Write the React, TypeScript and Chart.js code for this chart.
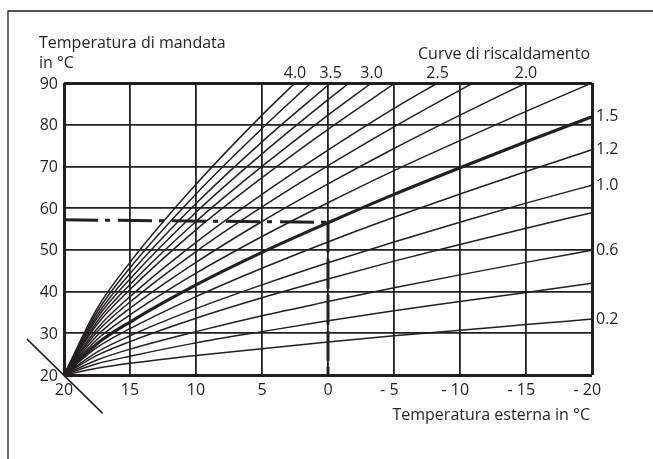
import { useEffect, useRef } from 'react';
import { Chart, registerables } from 'chart.js';

Chart.register(...registerables);

// Outside temperature sample points (°C)
const outsideTemp = [20, 17.5, 15, 10, 5, 0, -5, -10, -15, -20];

// Flow temperature of each heating curve at those outside temperatures (null = above 90 °C)
const k02 = [20, 21.6, 22.8, 24.7, 26.3, 27.9, 29.4, 30.7, 32.1, 33.4];
const k04 = [20, 22.7, 24.5, 27.7, 30.4, 33.0, 35.4, 37.6, 39.8, 42.0];
const k06 = [20, 23.6, 26.2, 30.4, 34.2, 37.6, 40.9, 44.0, 47.0, 49.9];
const k08 = [20, 24.7, 28.0, 33.6, 38.5, 43.0, 47.3, 51.3, 55.2, 58.9];
const k10 = [20, 25.5, 29.4, 35.9, 41.6, 46.9, 51.9, 56.6, 61.2, 65.5];
const k12 = [20, 26.6, 31.1, 38.8, 45.6, 51.9, 57.8, 63.4, 68.8, 74.0];
const k15 = [20, 27.5, 32.7, 41.6, 49.4, 56.5, 63.3, 69.7, 75.9, 81.9];
const k17 = [20, 28.5, 34.4, 44.4, 53.2, 61.3, 69.0, 76.2, 83.2, 90.0];
const k20 = [20, 29.4, 36.0, 47.0, 56.8, 65.8, 74.3, 82.3, 90.0, null];
const k22 = [20, 30.3, 37.5, 49.6, 60.3, 70.2, 79.5, 88.3, null, null];
const k25 = [20, 31.1, 38.8, 51.8, 63.3, 73.9, 83.9, null, null, null];
const k27 = [20, 32.1, 40.5, 54.8, 67.3, 78.9, null, null, null, null];
const k30 = [20, 32.8, 41.7, 56.8, 70.0, 82.3, null, null, null, null];
const k32 = [20, 33.6, 43.0, 59.0, 73.0, 86.0, null, null, null, null];
const k35 = [20, 34.3, 44.3, 61.1, 75.9, null, null, null, null, null];
const k37 = [20, 35.1, 45.7, 63.4, 79.1, null, null, null, null, null];
const k40 = [20, 35.9, 47.0, 65.7, 82.3, null, null, null, null, null];

const curveNames = ['0.2', '0.4', '0.6', '0.8', '1.0', '1.2', '1.5', '1.75', '2.0', '2.25', '2.5', '2.75', '3.0', '3.25', '3.5', '3.75', '4.0'];
const curveSeries = [k02, k04, k06, k08, k10, k12, k15, k17, k20, k22, k25, k27, k30, k32, k35, k37, k40];
// Outside temperature where a curve leaves the top of the diagram (90 °C)
const curveExit = [null, null, null, null, null, null, null, null, null, -11, -8.3, -5.1, -3.3, -1.6, -0.2, 1.3, 2.5];
const labelledCurves = ['0.2', '0.6', '1.0', '1.2', '1.5', '2.0', '2.5', '3.0', '3.5', '4.0'];
const boldCurve = '1.5';

// Example reading (dash-dot / dashed)
const exampleFlow = [57.2, 56.6];
const exampleOutside = [20, 0];
const exampleDrop = [56.5, 20];

// Diagonal marker through the origin
const markerX = [22.8, 17.07];
const markerY = [28.6, 10.8];

const xTickValues = [20, 15, 10, 5, 0, -5, -10, -15, -20];
const xTickLabels = ['20', '15', '10', '5', '0', '- 5', '- 10', '- 15', '- 20'];
const yTickValues = [20, 30, 40, 50, 60, 70, 80, 90];
const yTickLabels = ['20', '30', '40', '50', '60', '70', '80', '90'];

const yTitle = ['Temperatura di mandata', 'in °C'];
const xTitle = 'Temperatura esterna in °C';
const curveTitle = 'Curve di riscaldamento';

const INK = '#231f20';
const FONT = '16px "Open Sans", "DejaVu Sans", sans-serif';

function buildPoints(values: (number | null)[], exit: number | null) {
  const pts: { x: number; y: number }[] = [];
  values.forEach((v, i) => {
    if (v !== null) pts.push({ x: outsideTemp[i], y: v });
  });
  if (exit !== null) pts.push({ x: exit, y: 90 });
  return pts;
}

export default function App() {
  const ref = useRef<HTMLCanvasElement>(null);

  useEffect(() => {
    const canvas = ref.current;
    if (!canvas) return;

    const curveDatasets = curveSeries.map((vals, i) => ({
      label: curveNames[i],
      data: buildPoints(vals, curveExit[i]),
      borderColor: INK,
      borderWidth: curveNames[i] === boldCurve ? 3.2 : 1.5,
      pointRadius: 0,
      fill: false,
      cubicInterpolationMode: 'monotone' as const,
    }));

    const extraDatasets = [
      {
        label: 'example',
        data: exampleOutside.map((x, i) => ({ x, y: exampleFlow[i] })),
        borderColor: INK,
        borderWidth: 3,
        borderDash: [34, 7, 5, 8],
        pointRadius: 0,
        fill: false,
      },
      {
        label: 'drop',
        data: exampleDrop.map((y) => ({ x: exampleOutside[1], y })),
        borderColor: INK,
        borderWidth: 3,
        borderDash: [30, 6],
        pointRadius: 0,
        fill: false,
      },
      {
        label: 'marker',
        data: markerX.map((x, i) => ({ x, y: markerY[i] })),
        borderColor: INK,
        borderWidth: 1.5,
        pointRadius: 0,
        fill: false,
        clip: false as const,
      },
    ];

    const textPlugin = {
      id: 'texts',
      beforeDraw(chart: any) {
        const c = chart.ctx;
        c.save();
        c.strokeStyle = INK;
        c.lineWidth = 1.3;
        c.beginPath();
        c.moveTo(8, 459);
        c.lineTo(8, 11);
        c.lineTo(653, 11);
        c.stroke();
        c.restore();
      },
      afterDraw(chart: any) {
        const c = chart.ctx;
        const xs = chart.scales.x;
        const ys = chart.scales.y;
        c.save();
        c.font = FONT;
        c.fillStyle = INK;

        // y tick labels
        c.textAlign = 'right';
        c.textBaseline = 'middle';
        yTickValues.forEach((v, i) => {
          c.fillText(yTickLabels[i], 58, ys.getPixelForValue(v) + 1);
        });

        // x tick labels (number centred on the tick, minus sign to its left)
        xTickValues.forEach((v, i) => {
          const lab = xTickLabels[i];
          const num = lab.replace('- ', '');
          const w = c.measureText(num).width;
          c.textAlign = 'right';
          c.fillText(lab, xs.getPixelForValue(v) + w / 2, 390);
        });

        // titles
        c.textAlign = 'left';
        c.textBaseline = 'alphabetic';
        c.fillText(yTitle[0], 39, 48);
        c.fillText(yTitle[1], 39, 68);
        c.textAlign = 'right';
        c.fillText(curveTitle, 590, 59);
        c.fillText(xTitle, 590, 420);

        // curve labels
        curveSeries.forEach((vals, i) => {
          const name = curveNames[i];
          if (!labelledCurves.includes(name)) return;
          const pts = buildPoints(vals, curveExit[i]);
          const last = pts[pts.length - 1];
          if (last.y >= 90) {
            c.textAlign = 'center';
            c.textBaseline = 'alphabetic';
            c.fillText(name, xs.getPixelForValue(last.x), 78);
          } else {
            c.textAlign = 'left';
            c.textBaseline = 'middle';
            c.fillText(name, 596, ys.getPixelForValue(last.y));
          }
        });
        c.restore();
      },
    };

    const chart = new Chart(canvas, {
      type: 'line',
      data: { datasets: [...curveDatasets, ...extraDatasets] as any },
      options: {
        responsive: false,
        animation: false,
        events: [],
        layout: { padding: { left: 64, right: 61, top: 83, bottom: 84 } },
        plugins: { legend: { display: false }, tooltip: { enabled: false } },
        scales: {
          x: {
            type: 'linear',
            reverse: true,
            min: -20,
            max: 20,
            afterFit: (s: any) => {
              s.height = 0;
            },
            ticks: { display: false, stepSize: 5 },
            border: { display: false },
            grid: {
              drawTicks: false,
              color: INK,
              lineWidth: (ctx: any) =>
                ctx.tick && (ctx.tick.value === 20 || ctx.tick.value === -20) ? 3 : 1.8,
            },
          },
          y: {
            type: 'linear',
            min: 20,
            max: 90,
            afterFit: (s: any) => {
              s.width = 0;
            },
            ticks: { display: false, stepSize: 10 },
            border: { display: false },
            grid: {
              drawTicks: false,
              color: INK,
              lineWidth: (ctx: any) =>
                ctx.tick && (ctx.tick.value === 20 || ctx.tick.value === 90) ? 3 : 1.8,
            },
          },
        },
      },
      plugins: [textPlugin],
    });

    return () => chart.destroy();
  }, []);

  return (
    <div style={{ position: 'fixed', left: 0, top: 0, width: 653, height: 459, background: '#fff' }}>
      <canvas ref={ref} width={653} height={459} style={{ display: 'block', width: 653, height: 459 }} />
    </div>
  );
}
